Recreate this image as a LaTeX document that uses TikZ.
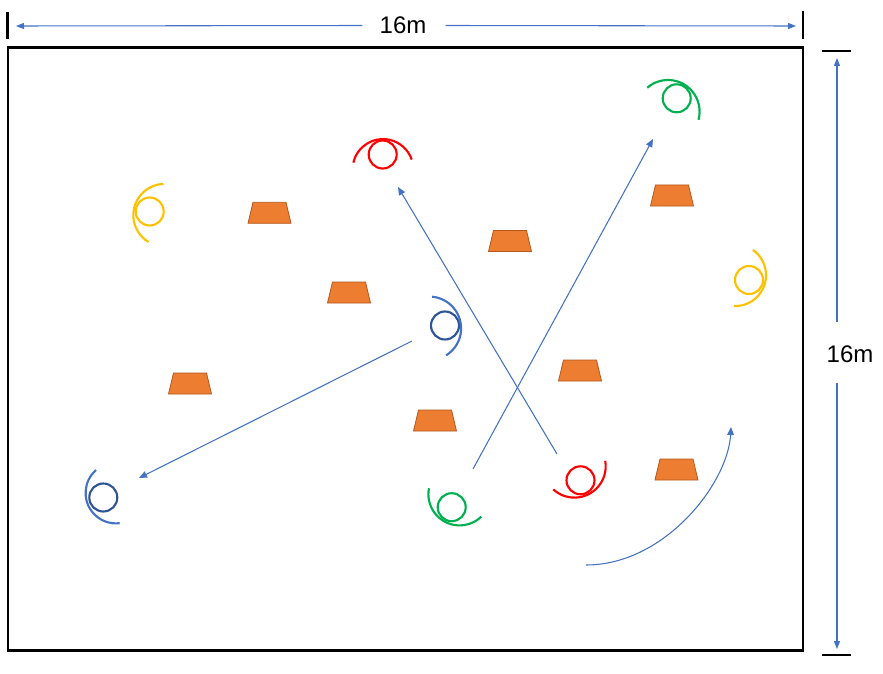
\documentclass[tikz,border=0pt]{standalone}
\usepackage{fontspec}
\setmainfont{Liberation Sans}
\usetikzlibrary{arrows.meta,shapes.geometric}
\definecolor{pred}{HTML}{FF0000}
\definecolor{pgreen}{HTML}{00B050}
\definecolor{pyellow}{HTML}{FFC000}
\definecolor{pnavy}{HTML}{2F5597}
\definecolor{pblue}{HTML}{4472C4}
\definecolor{conefill}{HTML}{ED7D31}
\definecolor{coneline}{HTML}{B4581D}
\begin{document}
\begin{tikzpicture}[x=0.75pt,y=-0.75pt,
  pcirc/.style={circle,draw=#1,line width=1.6pt,minimum size=21pt,inner sep=0pt,outer sep=0pt},
  parc/.style={draw=#1,line width=1.6pt},
  conebox/.style={fill=conefill,draw=coneline,line width=0.6pt,line join=miter},
  move/.style={draw=pblue,line width=0.8pt,-{Triangle[length=6pt,width=5pt]},pblue},
  dimline/.style={draw=pblue,line width=0.8pt,-{Triangle[length=6pt,width=4.5pt]},pblue},
  tickline/.style={black,line width=1.9pt},
  lbl/.style={font=\fontsize{18}{20}\selectfont,inner sep=0pt}]
\useasboundingbox (0,0) rectangle (883,674);

% field
\draw[line width=1.9pt] (8,47.5) rectangle (803,650.5);

% dimension: width
\coordinate (tl1) at (7.7,12);  \coordinate (tl2) at (7.7,39);
\coordinate (tr1) at (803,11);  \coordinate (tr2) at (803,39);
\draw[tickline] (tl1) -- (tl2);
\draw[tickline] (tr1) -- (tr2);
\node[lbl] (wlbl) at (403,25.5) {16m};
\coordinate (wl) at (16,26);
\coordinate (wr) at (796,26);
\draw[dimline] ([xshift=-12.75pt]wlbl.west) -- (wl);
\draw[dimline] ([xshift=14.25pt]wlbl.east) -- (wr);

% dimension: height
\coordinate (hb1) at (822,51);  \coordinate (hb2) at (851,51);
\coordinate (hc1) at (822,655); \coordinate (hc2) at (851,655);
\draw[tickline] (hb1) -- (hb2);
\draw[tickline] (hc1) -- (hc2);
\node[lbl] (hlbl) at (850,354) {16m};
\coordinate (hu0) at (837,322);
\coordinate (hu) at (837,58);
\coordinate (hd0) at (837,383);
\coordinate (hd) at (837,649);
\draw[dimline] (hu0) -- (hu);
\draw[dimline] (hd0) -- (hd);

% cones
\foreach \n/\x/\y in {c1/269.5/212.8, c2/510/241, c3/672/195.5, c4/349/292.5,
                      c5/580/370.5, c6/190/383.5, c7/435/420.5, c8/676.5/469.5}{
  \coordinate (\n) at (\x,\y);
  \draw[conebox] (\n) ++(-21.5,10.5) -- ++(43,0) -- ++(-5,-21) -- ++(-33,0) -- cycle;
}

% players
\node[pcirc=pred] (pr1) at (382.7,154.5) {};
\draw[parc=pred] (383,169.5) ++(193:30.4) arc[start angle=193,end angle=341,radius=30.4];

\node[pcirc=pnavy] (pb1) at (445,325.5) {};
\draw[parc=pblue] (429.3,328.4) ++(-85:31.8) arc[start angle=-85,end angle=58,radius=31.8];

\node[pcirc=pnavy] (pb2) at (103.3,497.5) {};
\draw[parc=pblue] (116,493) ++(229:30.4) arc[start angle=229,end angle=83,radius=30.4];

\node[pcirc=pgreen] (pg1) at (451.7,507.2) {};
\draw[parc=pgreen] (459.6,494.2) ++(191:31.2) arc[start angle=191,end angle=46,radius=31.2];

\node[pcirc=pred] (pr2) at (580.5,480.3) {};
\draw[parc=pred] (574.4,466.3) ++(132.5:31.3) arc[start angle=132.5,end angle=-10,radius=31.3];

\node[pcirc=pgreen] (pg2) at (676.7,98.3) {};
\draw[parc=pgreen] (668,111.6) ++(229:31.6) arc[start angle=229,end angle=375,radius=31.6];

\node[pcirc=pyellow] (py1) at (149.7,211.5) {};
\draw[parc=pyellow] (164.6,215.2) ++(268:31.3) arc[start angle=268,end angle=121,radius=31.3];

\node[pcirc=pyellow] (py2) at (749,280) {};
\draw[parc=pyellow] (735.1,275.2) ++(-55:30.9) arc[start angle=-55,end angle=92,radius=30.9];

% movements
\coordinate (ra) at (557,454); \coordinate (rb) at (398,187);
\coordinate (ga) at (473,469); \coordinate (gb) at (653,139);
\coordinate (ba) at (412,341); \coordinate (bb) at (139,478);
\coordinate (ca) at (586,565); \coordinate (cb) at (731,427);
\draw[move] (ra) -- (rb);
\draw[move] (ga) -- (gb);
\draw[move] (ba) -- (bb);
\draw[move] (ca) .. controls (665,565) and (728,483) .. (cb);
\end{tikzpicture}
\end{document}
